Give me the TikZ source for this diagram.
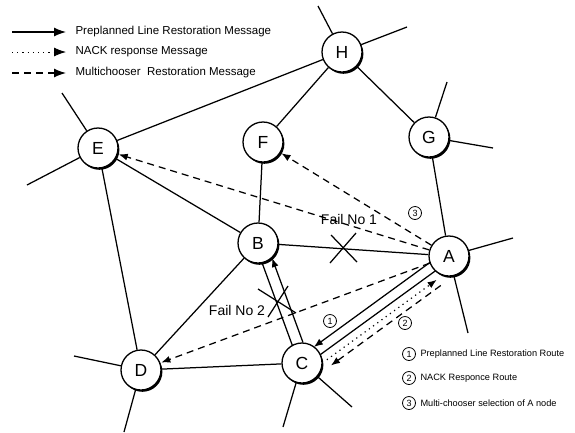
\documentclass[tikz,border=0pt]{standalone}
\usepackage{fontspec}
\setmainfont{Liberation Sans}
\usetikzlibrary{calc,arrows.meta,shadows,backgrounds}
\begin{document}
\begin{tikzpicture}[x=1pt,y=-1pt,
  nd/.style={circle,draw,line width=1.3pt,fill=white,minimum size=40pt,inner sep=0pt,
    font=\fontsize{17.5}{17.5}\selectfont,
    drop shadow={shadow xshift=1.4pt,shadow yshift=-1.8pt,fill=black,opacity=1}},
  ln/.style={line width=1.25pt},
  dsh/.style={line width=1.25pt,dash pattern=on 7pt off 5pt},
  dtt/.style={line width=1.2pt,dash pattern=on 1.2pt off 4pt},
  tip/.style={-{Latex[length=9pt,width=7pt]}},
  bigtip/.style={-{Latex[length=12pt,width=9pt]}},
  num/.style={circle,draw,line width=0.8pt,inner sep=0pt,minimum size=13pt,font=\fontsize{9}{9}\selectfont},
  leg/.style={anchor=west,font=\fontsize{11.5}{11.5}\selectfont},
  rleg/.style={anchor=west,font=\fontsize{9.2}{9.2}\selectfont},
  fail/.style={font=\fontsize{14}{14}\selectfont}
]
\useasboundingbox (0,0) rectangle (575,432);

% nodes
\node[nd] (H) at (342,52) {H};
\node[nd] (G) at (429,137) {G};
\node[nd] (F) at (263,142) {F};
\node[nd] (E) at (98,148) {E};
\node[nd] (B) at (258,243) {B};
\node[nd] (A) at (449,256) {A};
\node[nd] (C) at (302,363) {C};
\node[nd] (D) at (141,370) {D};

% stub ends
\coordinate (h1) at (318,6);
\coordinate (h2) at (407,27);
\coordinate (g1) at (447,82);
\coordinate (g2) at (493,148);
\coordinate (e1) at (62,93);
\coordinate (e2) at (27,185);
\coordinate (d1) at (74,356);
\coordinate (d2) at (124,432);
\coordinate (c1) at (283,427);
\coordinate (c2) at (352,407);
\coordinate (a1) at (513,238);
\coordinate (a2) at (468,333);

\begin{scope}[on background layer]
  \draw[ln] (H) -- (E);
  \draw[ln] (H) -- (F);
  \draw[ln] (H) -- (G);
  \draw[ln] (G) -- (A);
  \draw[ln] (F) -- (B);
  \draw[ln] (E) -- (B);
  \draw[ln] (E) -- (D);
  \draw[ln] (B) -- (D);
  \draw[ln] (B) -- (A);
  \draw[ln] (D) -- (C);
  \draw[ln] ($(A)!4pt!90:(C)$) -- ($(C)!4pt!-90:(A)$);
  \draw[ln] ($(B)!3pt!-90:(C)$) -- ($(C)!3pt!90:(B)$);
  \draw[ln] (H) -- (h1);
  \draw[ln] (H) -- (h2);
  \draw[ln] (G) -- (g1);
  \draw[ln] (G) -- (g2);
  \draw[ln] (E) -- (e1);
  \draw[ln] (E) -- (e2);
  \draw[ln] (D) -- (d1);
  \draw[ln] (D) -- (d2);
  \draw[ln] (C) -- (c1);
  \draw[ln] (C) -- (c2);
  \draw[ln] (A) -- (a1);
  \draw[ln] (A) -- (a2);
\end{scope}

% multichooser messages
\draw[dsh,tip,shorten >=1pt] (A) -- (E);
\draw[dsh,tip,shorten >=1pt] (A) -- (F);
\draw[dsh,tip,shorten >=1pt] (A) -- (D);
\draw[dsh,tip,shorten <=24pt,shorten >=22pt] ($(A)!19pt!90:(C)$) -- ($(C)!19pt!-90:(A)$);
% NACK response
\draw[dtt,tip,shorten <=22pt,shorten >=24pt] ($(C)!12pt!-90:(A)$) -- ($(A)!12pt!90:(C)$);
% preplanned route messages
\draw[ln,tip,shorten <=19pt,shorten >=19pt] ($(A)!6pt!-90:(C)$) -- ($(C)!6pt!90:(A)$);
\draw[ln,tip,shorten <=19pt,shorten >=19pt] ($(C)!8pt!-90:(B)$) -- ($(B)!8pt!90:(C)$);

% failures
\coordinate (x1a) at (330,263); \coordinate (x1b) at (356,233);
\coordinate (x1c) at (331,235); \coordinate (x1d) at (357,262);
\draw[ln] (x1a) -- (x1b);
\draw[ln] (x1c) -- (x1d);
\node[fail] (f1) at (349,219) {Fail No 1};
\coordinate (x2a) at (258,289); \coordinate (x2b) at (296,313);
\coordinate (x2c) at (288,286); \coordinate (x2d) at (268,317);
\draw[ln] (x2a) -- (x2b);
\draw[ln] (x2c) -- (x2d);
\node[fail] (f2) at (237,310) {Fail No 2};

% route numbers
\node[num] (n1) at (330,321) {1};
\node[num] (n2) at (405,323) {2};
\node[num] (n3) at (415,213) {3};

% legend top-left
\coordinate (l1a) at (12,32); \coordinate (l1b) at (66,32);
\coordinate (l2a) at (12,52); \coordinate (l2b) at (66,52);
\coordinate (l3a) at (12,73); \coordinate (l3b) at (66,73);
\draw[ln,bigtip] (l1a) -- (l1b);
\draw[dtt,line width=0.9pt,bigtip] (l2a) -- (l2b);
\draw[dsh,bigtip] (l3a) -- (l3b);
\node[leg] (t1) at (72,32) {Preplanned Line Restoration Message};
\node[leg] (t2) at (72,52) {NACK response Message};
\node[leg] (t3) at (72,73) {Multichooser\ \ Restoration Message};

% legend bottom-right
\node[num] (r1) at (409,354) {1};
\node[num] (r2) at (409,378) {2};
\node[num] (r3) at (409,403) {3};
\node[rleg] (rt1) at (417,354) {Preplanned Line Restoration Route};
\node[rleg] (rt2) at (417,378) {NACK Responce Route};
\node[rleg] (rt3) at (417,403) {Multi-chooser selection of A node};
\end{tikzpicture}
\end{document}
